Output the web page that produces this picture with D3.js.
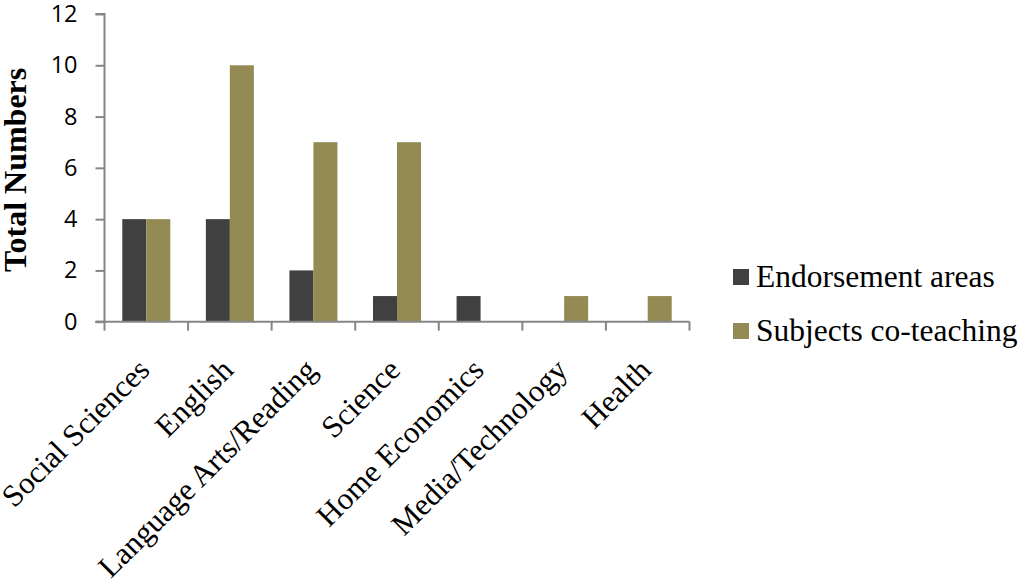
<!DOCTYPE html>
<html><head><meta charset="utf-8">
<script src="https://cdn.jsdelivr.net/npm/d3@7"></script>
<style>body{margin:0;background:#fff}</style>
</head><body>
<svg id="c" width="1019" height="585"></svg>
<script>
const categories = ["Social Sciences","English","Language Arts/Reading","Science","Home Economics","Media/Technology","Health"];
const endorsement = [4,4,2,1,1,0,0];
const coteaching = [4,10,7,7,0,1,1];
const seriesNames = ["Endorsement areas","Subjects co-teaching"];
const colors = ["#404040","#948A54"];
const yTicks = [0,2,4,6,8,10,12];

const svg = d3.select("#c");
const mLeft = 104.5, mRight = 689.5, mTop = 14, mBottom = 321.7;
const x = d3.scaleBand().domain(categories).range([mLeft,mRight]);
const y = d3.scaleLinear().domain([0,12]).range([mBottom,mTop]);
const bw = 24;
const axisColor = "#868686";
const serif = "'Liberation Serif', 'Times New Roman', serif";

// bars
const series = [endorsement, coteaching];
series.forEach((vals,si)=>{
  svg.append("g").selectAll("rect").data(categories).join("rect")
    .attr("x", d=> x(d)+x.bandwidth()/2 + (si===0?-bw:0))
    .attr("y", (d,i)=> y(vals[i]))
    .attr("width", bw)
    .attr("height", (d,i)=> y(0)-y(vals[i]))
    .attr("fill", colors[si]);
});

// y axis
const ya = svg.append("g").attr("transform",`translate(${mLeft},0)`)
  .call(d3.axisLeft(y).tickValues(yTicks).tickSize(9).tickPadding(18).tickFormat(d3.format("d")));
ya.select(".domain").attr("stroke",axisColor).attr("stroke-width",2).attr("d",`M-9,${mTop}H0V${mBottom}H-9`);
ya.selectAll(".tick line").attr("stroke",axisColor).attr("stroke-width",2);
ya.selectAll(".tick text").attr("font-family","'Open Sans', sans-serif").attr("font-size",23.5).attr("fill","#000");

// x axis
const boundaries = categories.map(c=>x(c)).concat([mRight]);
svg.append("line").attr("x1",mLeft-9).attr("x2",mRight).attr("y1",mBottom).attr("y2",mBottom)
  .attr("stroke",axisColor).attr("stroke-width",2);
svg.append("g").selectAll("line").data(boundaries).join("line")
  .attr("x1",d=>d).attr("x2",d=>d).attr("y1",mBottom).attr("y2",mBottom+9)
  .attr("stroke",axisColor).attr("stroke-width",2);

// x labels
svg.append("g").selectAll("text").data(categories).join("text")
  .attr("transform", d=>`translate(${x(d)+x.bandwidth()/2+5},${mBottom+50}) rotate(-45)`)
  .attr("text-anchor","end")
  .attr("font-family",serif)
  .attr("font-size",31)
  .text(d=>d);

// y title
svg.append("text")
  .attr("transform",`translate(26,${(mTop+mBottom)/2+2}) rotate(-90)`)
  .attr("text-anchor","middle")
  .attr("font-family",serif)
  .attr("font-weight","bold").attr("font-size",32)
  .text("Total Numbers");

// legend
const lg = svg.append("g");
seriesNames.forEach((n,i)=>{
  const base = 287 + i*54;
  lg.append("rect").attr("x",733).attr("y",base-18).attr("width",16).attr("height",16).attr("fill",colors[i]);
  lg.append("text").attr("x",756).attr("y",base)
    .attr("font-family",serif)
    .attr("font-size",31.5).text(n);
});
</script>
</body></html>
